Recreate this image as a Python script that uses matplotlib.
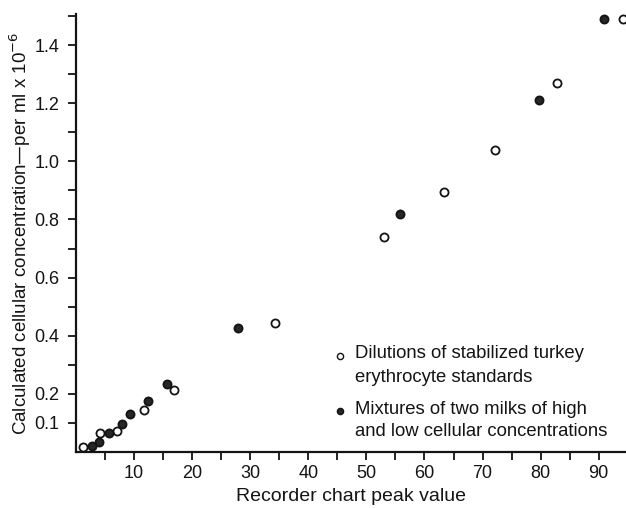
import matplotlib
matplotlib.use("Agg")
import matplotlib.pyplot as plt

plt.rcParams['font.family'] = ['Liberation Sans', 'DejaVu Sans']

# Open circles: dilutions of stabilized turkey erythrocyte standards
open_x = [1.2, 4.1, 7.0, 11.7, 16.9, 34.3, 53.0, 63.3, 72.1, 82.8, 94.1]
open_y = [0.017, 0.064, 0.072, 0.145, 0.214, 0.445, 0.741, 0.893, 1.04, 1.27, 1.49]

# Filled circles: mixtures of two milks
filled_x = [2.8, 4.0, 5.7, 7.9, 9.3, 12.4, 15.7, 27.9, 55.8, 79.7, 90.9]
filled_y = [0.020, 0.033, 0.066, 0.095, 0.130, 0.175, 0.234, 0.428, 0.82, 1.21, 1.49]

x_ticks = [5, 10, 15, 20, 25, 30, 35, 40, 45, 50, 55, 60, 65, 70, 75, 80, 85, 90]
x_labels = ['', '10', '', '20', '', '30', '', '40', '', '50', '', '60', '', '70', '', '80', '', '90']
y_ticks = [0.1, 0.2, 0.3, 0.4, 0.5, 0.6, 0.7, 0.8, 0.9, 1.0, 1.1, 1.2, 1.3, 1.4, 1.5]
y_labels = ['0.1', '0.2', '', '0.4', '', '0.6', '', '0.8', '', '1.0', '', '1.2', '', '1.4', '']

ink = '#141414'

fig = plt.figure(figsize=(6.26, 5.08), dpi=100)
ax = fig.add_axes([76/626, 56/508, 550/626, 438/508])
ax.set_xlim(0, 94.7)
ax.set_ylim(0, 1.507)

ax.scatter(open_x, open_y, s=34, facecolors='white', edgecolors=ink, linewidths=1.3, zorder=3, clip_on=False)
ax.scatter(filled_x, filled_y, s=34, facecolors='#262626', edgecolors=ink, linewidths=1.3, zorder=3, clip_on=False)

for side in ['top', 'right']:
    ax.spines[side].set_visible(False)
for side in ['left', 'bottom']:
    ax.spines[side].set_linewidth(1.6)
    ax.spines[side].set_color(ink)

ax.set_xticks(x_ticks)
ax.set_xticklabels(x_labels)
ax.set_yticks(y_ticks)
ax.set_yticklabels(y_labels)
ax.tick_params(axis='both', direction='out', length=6, width=1.3, colors=ink,
               labelsize=13, labelcolor=ink)
ax.tick_params(axis='x', pad=3)
ax.tick_params(axis='y', pad=6)

ax.set_xlabel('Recorder chart peak value', fontsize=14, color=ink, labelpad=5)
ax.set_ylabel(r'Calculated cellular concentration—per ml x 10$^{-6}$', fontsize=13.5, color=ink, labelpad=1)

# Legend as text
fs = 13.3
tx = 48.0
ax.scatter([45.4], [0.331], s=20, facecolors='white', edgecolors=ink, linewidths=1.0, zorder=3)
ax.text(tx, 0.338, 'Dilutions of stabilized turkey', fontsize=fs, color=ink, va='center', ha='left')
ax.text(tx, 0.258, 'erythrocyte standards', fontsize=fs, color=ink, va='center', ha='left')
ax.scatter([45.4], [0.142], s=20, facecolors='#262626', edgecolors=ink, linewidths=1.0, zorder=3)
ax.text(tx, 0.145, 'Mixtures of two milks of high', fontsize=fs, color=ink, va='center', ha='left')
ax.text(tx, 0.07, 'and low cellular concentrations', fontsize=fs, color=ink, va='center', ha='left')

fig.savefig('out.png', dpi=100)
